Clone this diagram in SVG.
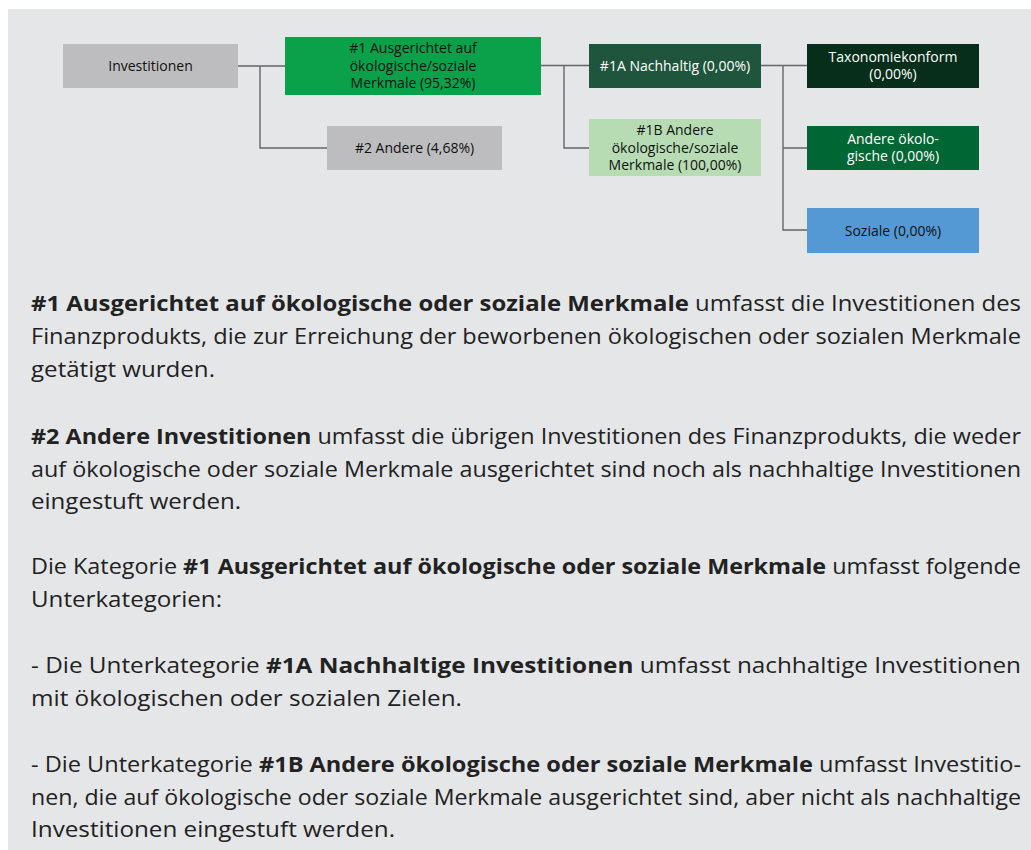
<svg xmlns="http://www.w3.org/2000/svg" width="1031" height="850" viewBox="0 0 1031 850">
<style>
.bt{font-family:"Open Sans","Noto Sans",sans-serif;font-size:14px;text-anchor:middle;fill:#111;}
.w{fill:#fff;}
.conn{fill:none;stroke:#666;stroke-width:1.4;}
.p{font-family:"Open Sans","Noto Sans",sans-serif;font-size:21.5px;fill:#222;}
.b{font-weight:bold;}
</style>
<rect x="0" y="0" width="1031" height="850" fill="#ffffff"/>
<rect x="8" y="9" width="1023" height="841" fill="#e5e6e8"/>
<g id="connectors">
<path class="conn" d="M238 66H285M260 66V148H327"/>
<path class="conn" d="M541 65.5H589M564 65.5V148H589"/>
<path class="conn" d="M761 65.5H807M783 65.5V230H807M783 148H807"/>
</g>
<g id="n-investitionen">
<rect x="63" y="44" width="175" height="44" fill="#bdbdbf"/>
<text class="bt" x="150.5" y="71">Investitionen</text>
</g>
<g id="n-1">
<rect x="285" y="37" width="256" height="58" fill="#0ba14b"/>
<text class="bt" x="413" y="53">#1 Ausgerichtet auf</text>
<text class="bt" x="413" y="70.5">ökologische/soziale</text>
<text class="bt" x="413" y="88">Merkmale (95,32%)</text>
</g>
<g id="n-2">
<rect x="327" y="126" width="175" height="44" fill="#bdbdbf"/>
<text class="bt" x="414.5" y="153">#2 Andere (4,68%)</text>
</g>
<g id="n-1a">
<rect x="589" y="44" width="172" height="44" fill="#1f553d"/>
<text class="bt w" x="675" y="70.5">#1A Nachhaltig (0,00%)</text>
</g>
<g id="n-1b">
<rect x="589" y="119" width="172" height="57" fill="#b7dcb3"/>
<text class="bt" x="675" y="135">#1B Andere</text>
<text class="bt" x="675" y="152.5">ökologische/soziale</text>
<text class="bt" x="675" y="170">Merkmale (100,00%)</text>
</g>
<g id="n-taxo">
<rect x="807" y="44" width="172" height="44" fill="#062e1b"/>
<text class="bt w" x="893" y="62">Taxonomiekonform</text>
<text class="bt w" x="893" y="79">(0,00%)</text>
</g>
<g id="n-andere-oeko">
<rect x="807" y="126" width="172" height="44" fill="#006633"/>
<text class="bt w" x="893" y="144">Andere ökolo-</text>
<text class="bt w" x="893" y="161">gische (0,00%)</text>
</g>
<g id="n-soziale">
<rect x="807" y="208" width="172" height="45" fill="#5499d3"/>
<text class="bt" x="893" y="235.5">Soziale (0,00%)</text>
</g>
<g id="text">
<text class="p" x="31" y="311" textLength="990" lengthAdjust="spacingAndGlyphs"><tspan class="b">#1 Ausgerichtet auf ökologische oder soziale Merkmale</tspan> umfasst die Investitionen des</text>
<text class="p" x="31" y="344" textLength="990" lengthAdjust="spacingAndGlyphs">Finanzprodukts, die zur Erreichung der beworbenen ökologischen oder sozialen Merkmale</text>
<text class="p" x="31" y="377" textLength="184" lengthAdjust="spacingAndGlyphs">getätigt wurden.</text>
<text class="p" x="31" y="444" textLength="990" lengthAdjust="spacingAndGlyphs"><tspan class="b">#2 Andere Investitionen</tspan> umfasst die übrigen Investitionen des Finanzprodukts, die weder</text>
<text class="p" x="31" y="477" textLength="990" lengthAdjust="spacingAndGlyphs">auf ökologische oder soziale Merkmale ausgerichtet sind noch als nachhaltige Investitionen</text>
<text class="p" x="31" y="509" textLength="210" lengthAdjust="spacingAndGlyphs">eingestuft werden.</text>
<text class="p" x="31" y="574" textLength="990" lengthAdjust="spacingAndGlyphs">Die Kategorie <tspan class="b">#1 Ausgerichtet auf ökologische oder soziale Merkmale</tspan> umfasst folgende</text>
<text class="p" x="31" y="607" textLength="191" lengthAdjust="spacingAndGlyphs">Unterkategorien:</text>
<text class="p" x="31" y="673" textLength="990" lengthAdjust="spacingAndGlyphs">- Die Unterkategorie <tspan class="b">#1A Nachhaltige Investitionen</tspan> umfasst nachhaltige Investitionen</text>
<text class="p" x="31" y="706" textLength="431" lengthAdjust="spacingAndGlyphs">mit ökologischen oder sozialen Zielen.</text>
<text class="p" x="31" y="772" textLength="990" lengthAdjust="spacingAndGlyphs">- Die Unterkategorie <tspan class="b">#1B Andere ökologische oder soziale Merkmale</tspan> umfasst Investitio-</text>
<text class="p" x="31" y="805" textLength="990" lengthAdjust="spacingAndGlyphs">nen, die auf ökologische oder soziale Merkmale ausgerichtet sind, aber nicht als nachhaltige</text>
<text class="p" x="31" y="837" textLength="364" lengthAdjust="spacingAndGlyphs">Investitionen eingestuft werden.</text>
</g>
</svg>
